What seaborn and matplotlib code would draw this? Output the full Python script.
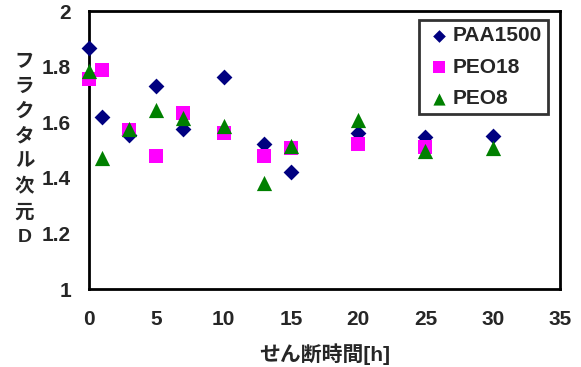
import pandas as pd
import seaborn as sns
import matplotlib.pyplot as plt

# Values
series_names = ["PAA1500", "PEO18", "PEO8"]

hours_paa = [0, 1, 3, 5, 7, 10, 13, 15, 20, 25, 30]
dim_paa = [1.867, 1.619, 1.554, 1.730, 1.576, 1.763, 1.522, 1.421, 1.561, 1.547, 1.550]

hours_peo18 = [0, 1, 3, 5, 7, 10, 13, 15, 20, 25]
dim_peo18 = [1.755, 1.788, 1.572, 1.478, 1.633, 1.561, 1.478, 1.507, 1.522, 1.511]

hours_peo8 = [0, 1, 3, 5, 7, 10, 13, 15, 20, 25, 30]
dim_peo8 = [1.784, 1.471, 1.576, 1.644, 1.615, 1.586, 1.381, 1.514, 1.608, 1.496, 1.507]

x_ticks = [0, 5, 10, 15, 20, 25, 30, 35]
y_ticks = [1, 1.2, 1.4, 1.6, 1.8, 2]
y_tick_labels = ["1", "1.2", "1.4", "1.6", "1.8", "2"]

# Long-form table for seaborn
df = pd.concat([
    pd.DataFrame({"time": hours_paa, "D": dim_paa, "sample": "PAA1500"}),
    pd.DataFrame({"time": hours_peo18, "D": dim_peo18, "sample": "PEO18"}),
    pd.DataFrame({"time": hours_peo8, "D": dim_peo8, "sample": "PEO8"}),
], ignore_index=True)

sns.set_style("white")
plt.rcParams["font.family"] = ["Liberation Sans", "Noto Sans CJK JP"]
plt.rcParams["font.weight"] = "bold"

palette = {"PAA1500": "#000080", "PEO18": "#FF00FF", "PEO8": "#008000"}
markers = {"PAA1500": "D", "PEO18": "s", "PEO8": "^"}
sizes = {"PAA1500": 65, "PEO18": 110, "PEO8": 120}

fig = plt.figure(figsize=(5.81, 3.67), dpi=100)
ax = fig.add_axes([0.1532, 0.2125, 0.8107, 0.7575])

for name in series_names:
    sub = df[df["sample"] == name]
    sns.scatterplot(data=sub, x="time", y="D", color=palette[name],
                    marker=markers[name], s=sizes[name], linewidth=0,
                    label=name, ax=ax, clip_on=False, zorder=3)

ax.set_xlim(0, 35)
ax.set_ylim(1, 2)
ax.set_xticks(x_ticks)
ax.set_yticks(y_ticks)
ax.set_yticklabels(y_tick_labels)

for side in ["left", "right", "top", "bottom"]:
    ax.spines[side].set_color("black")
    ax.spines[side].set_linewidth(2.0)

ax.tick_params(axis="x", direction="in", length=5, width=2, pad=15, labelsize=15)
ax.tick_params(axis="y", direction="in", length=5, width=2, pad=13, labelsize=15)
for lab in ax.get_xticklabels() + ax.get_yticklabels():
    lab.set_fontweight("bold")

ax.set_xlabel("せん断時間[h]", fontsize=15, fontweight="bold", va="center")
ax.xaxis.set_label_coords(0.5, -0.235)

ax.set_ylabel("\n".join("フラクタル次元D"), fontsize=14, fontweight="bold",
              rotation=0, va="center", ha="center", linespacing=1.58)
ax.yaxis.set_label_coords(-0.137, 0.5)

leg = ax.legend(loc="upper right", bbox_to_anchor=(0.974, 0.968), fancybox=False,
                frameon=True, prop={"size": 15, "weight": "bold"},
                handletextpad=0.0, borderpad=0.3, labelspacing=0.6,
                handlelength=1.3, markerscale=0.8, borderaxespad=0)
leg.get_frame().set_edgecolor("black")
leg.get_frame().set_linewidth(2.0)

fig.savefig("out.png", dpi=100)
